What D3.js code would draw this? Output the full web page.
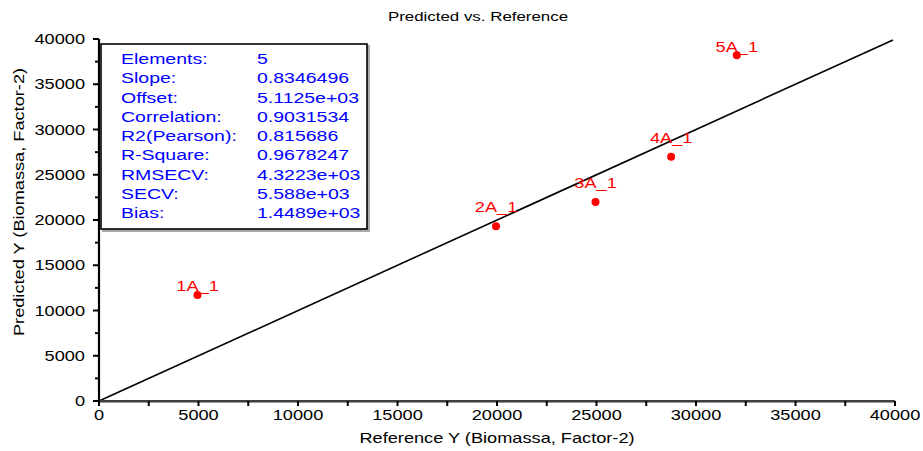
<!DOCTYPE html>
<html>
<head>
<meta charset="utf-8">
<script src="https://cdn.jsdelivr.net/npm/d3@7"></script>
<style>
	body { margin: 0; background: #fff; }
	svg { display: block; font-family: "Liberation Sans", Arial, sans-serif; }
</style>
</head>
<body>
<svg id="chart" width="923" height="451"></svg>
<script>
// sample values
var sampleNames = ["1A_1", "2A_1", "3A_1", "4A_1", "5A_1"];
var referenceY = [4950, 19950, 24950, 28750, 32050];
var predictedY = [11700, 19300, 22000, 27000, 38200];
var labelLift = [4, 14, 14, 14, 3];

var statNames = ["Elements:", "Slope:", "Offset:", "Correlation:", "R2(Pearson):", "R-Square:", "RMSECV:", "SECV:", "Bias:"];
var statValues = ["5", "0.8346496", "5.1125e+03", "0.9031534", "0.815686", "0.9678247", "4.3223e+03", "5.588e+03", "1.4489e+03"];

var majorTicks = [0, 5000, 10000, 15000, 20000, 25000, 30000, 35000, 40000];
var minorTicks = [2500, 7500, 12500, 17500, 22500, 27500, 32500, 37500];

var cfg = { left: 99, right: 895, top: 39, bottom: 401, stretch: 1.3 };

// the original renders its text horizontally widened, so scale each label
function addText(parent, x, y, str, size, anchor, color, rotate) {
	return parent.append("text")
	.attr("transform", "translate(" + x + "," + y + ")" + (rotate ? " rotate(" + rotate + ")" : "") + " scale(" + cfg.stretch + ",1)")
	.attr("text-anchor", anchor)
	.attr("font-size", size)
	.attr("fill", color || "#000")
	.text(str);
}

function renderScatter(id) {
	var svg = d3.select(id);
	svg.selectAll("*").remove();

	var x = d3.scaleLinear().domain([0, 40000]).range([cfg.left, cfg.right]);
	var y = d3.scaleLinear().domain([0, 40000]).range([cfg.bottom, cfg.top]);

	// diagonal target line
	svg.append("line")
	.attr("x1", x(0)).attr("y1", y(0))
	.attr("x2", x(39900)).attr("y2", y(39900))
	.attr("stroke", "#000")
	.attr("stroke-width", 1.6);

	// x axis
	var xAxis = svg.append("g");
	xAxis.append("line")
	.attr("x1", x(0)).attr("x2", x(40000))
	.attr("y1", y(0) + 0.5).attr("y2", y(0) + 0.5)
	.attr("stroke", "#999").attr("stroke-width", 3);
	xAxis.append("line")
	.attr("x1", x(0)).attr("x2", x(40000))
	.attr("y1", y(0)).attr("y2", y(0))
	.attr("stroke", "#222").attr("stroke-width", 1.5);
	xAxis.selectAll(".xt")
	.data(majorTicks.concat(minorTicks))
	.enter().append("line")
	.attr("x1", function(d) { return x(d); })
	.attr("x2", function(d) { return x(d); })
	.attr("y1", y(0)).attr("y2", y(0) + 5)
	.attr("stroke", "#000").attr("stroke-width", 2);
	majorTicks.forEach(function(d) {
		addText(xAxis, x(d), 420, d, 14, "middle");
	});

	// y axis
	var yAxis = svg.append("g");
	yAxis.append("line")
	.attr("x1", x(0)).attr("x2", x(0))
	.attr("y1", y(40000)).attr("y2", y(0) + 1)
	.attr("stroke", "#000").attr("stroke-width", 2.2);
	yAxis.selectAll(".ymaj")
	.data(majorTicks)
	.enter().append("line")
	.attr("x1", x(0) - 6).attr("x2", x(0))
	.attr("y1", function(d) { return y(d); })
	.attr("y2", function(d) { return y(d); })
	.attr("stroke", "#000").attr("stroke-width", 2);
	yAxis.selectAll(".ymin")
	.data(minorTicks)
	.enter().append("line")
	.attr("x1", x(0) - 4).attr("x2", x(0))
	.attr("y1", function(d) { return y(d); })
	.attr("y2", function(d) { return y(d); })
	.attr("stroke", "#000").attr("stroke-width", 2);
	majorTicks.forEach(function(d) {
		addText(yAxis, 85, y(d) + 5, d, 14, "end");
	});

	// titles
	addText(svg, 478, 21, "Predicted vs. Reference", 13, "middle");
	addText(svg, 497, 443, "Reference Y (Biomassa, Factor-2)", 14, "middle");
	addText(svg, 24, 202, "Predicted Y (Biomassa, Factor-2)", 14, "middle", "#000", -90);

	// statistics box
	var box = svg.append("g");
	box.append("rect")
	.attr("x", 102).attr("y", 45)
	.attr("width", 268).attr("height", 187)
	.attr("fill", "#aaa");
	box.append("rect")
	.attr("x", 101).attr("y", 44)
	.attr("width", 266).attr("height", 185)
	.attr("fill", "#fff")
	.attr("stroke", "#000")
	.attr("stroke-width", 1.6);
	statNames.forEach(function(s, i) {
		addText(box, 121, 64 + i * 19.25, s, 15, "start", "#0000ff");
		addText(box, 257, 64 + i * 19.25, statValues[i], 15, "start", "#0000ff");
	});

	// samples
	var pts = svg.selectAll(".pt")
	.data(sampleNames)
	.enter().append("g");
	pts.append("circle")
	.attr("cx", function(d, i) { return x(referenceY[i]); })
	.attr("cy", function(d, i) { return y(predictedY[i]); })
	.attr("r", 4)
	.attr("fill", "#ff0000");
	pts.each(function(d, i) {
		addText(d3.select(this), x(referenceY[i]), y(predictedY[i]) - labelLift[i], d, 14, "middle", "#ff0000");
	});
}

renderScatter("#chart");
</script>
</body>
</html>
